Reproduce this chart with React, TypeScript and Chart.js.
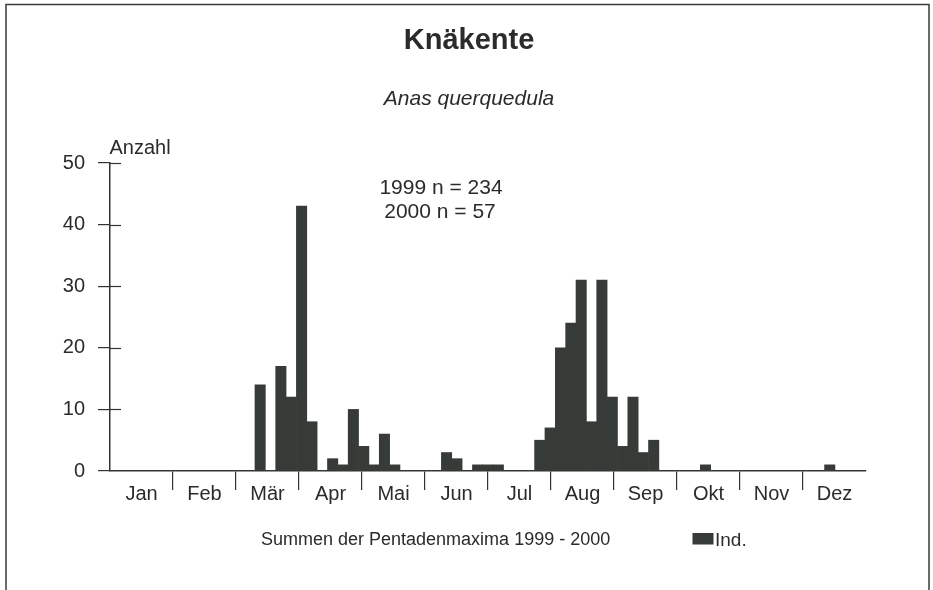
import React, { useEffect, useRef } from "react";
import { Chart, registerables } from "chart.js";

Chart.register(...registerables);

// ---- data ----
const months: string[] = ["Jan", "Feb", "Mär", "Apr", "Mai", "Jun", "Jul", "Aug", "Sep", "Okt", "Nov", "Dez"];
const pentads: string[] = Array.from({ length: 73 }, (_, i) => String(i + 1));
// Summen der Pentadenmaxima (Ind.), 73 Pentaden
const individuals: number[] = [
  0, 0, 0, 0, 0, 0, 0, 0, 0, 0, 0, 0,
  0, 0, 14, 0, 17, 12, 43, 8, 0, 2, 1, 10,
  4, 1, 6, 1, 0, 0, 0, 0, 3, 2, 0, 1,
  1, 1, 0, 0, 0, 5, 7, 20, 24, 31, 8, 31,
  12, 4, 12, 3, 5, 0, 0, 0, 0, 1, 0, 0,
  0, 0, 0, 0, 0, 0, 0, 0, 0, 1, 0, 0,
  0,
];
const yTicks: number[] = [0, 10, 20, 30, 40, 50];
const titleText = "Knäkente";
const subtitleText = "Anas querquedula";
const yAxisTitle = "Anzahl";
const noteLines: string[] = ["1999 n = 234", "2000 n = 57"];
const footerText = "Summen der Pentadenmaxima 1999 - 2000";
const legendLabel = "Ind.";

const FONT = "'Liberation Sans', Arial, Helvetica, sans-serif";
const INK = "#2b2b2b";
const BAR = "#373b38";
const LINE = "#333333";

const decorPlugin = {
  id: "decor",
  afterDraw(chart: any) {
    const ctx = chart.ctx as CanvasRenderingContext2D;
    const area = chart.chartArea;
    const yScale = chart.scales.y;
    ctx.save();
    // frame
    ctx.strokeStyle = "#3a3a3a";
    ctx.lineWidth = 1.5;
    ctx.beginPath();
    ctx.moveTo(6, 590);
    ctx.lineTo(6, 4.5);
    ctx.lineTo(929, 4.5);
    ctx.lineTo(929, 590);
    ctx.stroke();

    // inner y tick halves
    ctx.strokeStyle = LINE;
    ctx.lineWidth = 1.2;
    yTicks.forEach((v) => {
      if (v === 0) return;
      const y = Math.round(yScale.getPixelForValue(v)) + 0.5;
      ctx.beginPath();
      ctx.moveTo(area.left, y);
      ctx.lineTo(area.left + 11, y);
      ctx.stroke();
    });

    ctx.fillStyle = INK;
    ctx.textBaseline = "alphabetic";
    // title
    ctx.font = `bold 29px ${FONT}`;
    ctx.textAlign = "center";
    ctx.fillText(titleText, 469, 49);
    // subtitle
    ctx.font = `italic 21px ${FONT}`;
    ctx.fillText(subtitleText, 469, 105);
    // note
    ctx.font = `21px ${FONT}`;
    ctx.fillText(noteLines[0], 441, 194);
    ctx.fillText(noteLines[1], 440, 218);
    // y axis title
    ctx.textAlign = "left";
    ctx.font = `20px ${FONT}`;
    ctx.fillText(yAxisTitle, area.left - 0.5, 154);
    // footer
    ctx.font = `18px ${FONT}`;
    ctx.fillText(footerText, 261, 545);
    // legend
    ctx.fillStyle = BAR;
    ctx.fillRect(692.5, 533, 21, 11.5);
    ctx.fillStyle = INK;
    ctx.font = `19px ${FONT}`;
    ctx.fillText(legendLabel, 715, 546);
    ctx.restore();
  },
};

export default function App() {
  const canvasRef = useRef<HTMLCanvasElement | null>(null);

  useEffect(() => {
    const canvas = canvasRef.current;
    if (!canvas) return;
    const chart = new Chart(canvas, {
      type: "bar",
      data: {
        labels: pentads,
        datasets: [
          {
            label: legendLabel,
            data: individuals,
            backgroundColor: BAR,
            borderWidth: 0,
            barPercentage: 1,
            categoryPercentage: 1,
            xAxisID: "x",
            yAxisID: "y",
          },
        ],
      },
      options: {
        responsive: false,
        animation: false,
        devicePixelRatio: 1,
        layout: { padding: { left: 0, top: 163, right: 67, bottom: 0 } },
        plugins: {
          legend: { display: false },
          title: { display: false },
          tooltip: { enabled: false },
        },
        scales: {
          x: {
            type: "category",
            display: false,
            offset: true,
          },
          xm: {
            type: "category",
            labels: months,
            position: "bottom",
            offset: true,
            grid: {
              offset: true,
              drawOnChartArea: false,
              drawTicks: true,
              tickLength: 19,
              lineWidth: 1.2,
              color: (c: any) => (c.type !== "tick" || c.index === 0 ? "rgba(0,0,0,0)" : LINE),
            },
            border: { display: true, color: LINE, width: 1.5 },
            ticks: {
              autoSkip: false,
              maxRotation: 0,
              padding: -8,
              color: INK,
              font: { family: FONT, size: 20 },
            },
            afterFit: (s: any) => {
              s.height = 119;
            },
          },
          y: {
            type: "linear",
            min: 0,
            max: 50,
            position: "left",
            afterBuildTicks: (s: any) => {
              s.ticks = yTicks.map((v) => ({ value: v }));
            },
            grid: {
              drawOnChartArea: false,
              drawTicks: true,
              tickLength: 12,
              lineWidth: 1.2,
              color: LINE,
            },
            border: { display: true, color: LINE, width: 1.5 },
            ticks: {
              padding: 13,
              color: INK,
              font: { family: FONT, size: 20 },
            },
            afterFit: (s: any) => {
              s.width = 110;
            },
          },
        },
      },
      plugins: [decorPlugin],
    } as any);
    return () => chart.destroy();
  }, []);

  return (
    <div style={{ position: "absolute", left: 0, top: 0, width: 933, height: 590, background: "#fff" }}>
      <canvas ref={canvasRef} width={933} height={590} style={{ display: "block" }} />
    </div>
  );
}
